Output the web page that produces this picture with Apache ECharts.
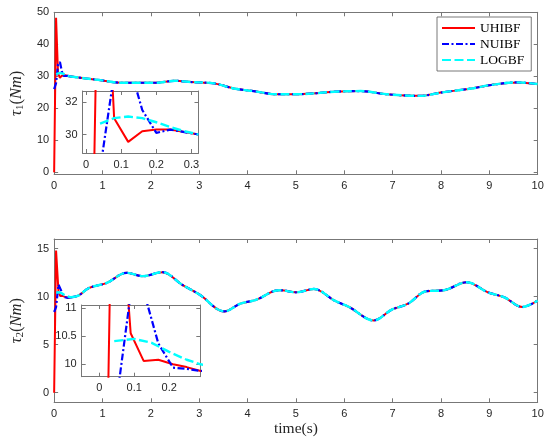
<!DOCTYPE html>
<html>
<head>
<meta charset="utf-8">
<script src="https://cdn.jsdelivr.net/npm/echarts@6/dist/echarts.min.js"></script>
<style>html,body{margin:0;padding:0;background:#fff;}#c{width:550px;height:444px;}</style>
</head>
<body>
<div id="c"></div>
<script>
// ---- data: top panel (tau_1) ----
const legendNames = ['UHIBF', 'NUIBF', 'LOGBF'];
const tTrans1 = [0, 0.04, 0.08, 0.12, 0.16, 0.20, 0.24, 0.28, 0.32];
const red1 = [0, 48.3, 31.0, 29.55, 30.2, 30.3, 30.3, 30.15, 30.0];
const blue1 = [26.0, 27.85, 33.7, 34.5, 31.5, 30.1, 30.3, 30.15, 30.0];
const tCyan1 = [0.04, 0.08, 0.12, 0.16, 0.20, 0.24, 0.28, 0.32];
const cyan1 = [30.67, 31.0, 31.1, 31.0, 30.75, 30.45, 30.2, 30.0];
const tTail1 = [0.32, 0.62, 0.96, 1.36, 1.75, 2.1, 2.5, 2.84, 3.31, 3.72, 4.12, 4.59, 5.0, 5.4, 5.8, 6.34, 6.88, 7.56, 8.03, 8.63, 9.04, 9.58, 10.0];
const yTail1 = [30.0, 29.4, 28.8, 28.0, 28.0, 28.0, 28.6, 28.2, 27.8, 26.2, 25.4, 24.4, 24.4, 24.7, 25.2, 25.4, 24.4, 23.9, 25.0, 26.2, 27.3, 28.1, 27.6];
// ---- data: bottom panel (tau_2) ----
const tRed2 = [0, 0.04, 0.09, 0.127, 0.169, 0.211, 0.25, 0.29, 0.35];
const red2 = [0, 14.8, 10.55, 10.06, 10.08, 10.0, 9.95, 9.88, 9.93];
const tBlue2 = [0, 0.04, 0.09, 0.127, 0.169, 0.211, 0.25, 0.29, 0.35];
const blue2 = [8.4, 8.9, 11.25, 11.3, 10.37, 9.94, 9.92, 9.88, 9.93];
const tCyan2 = [0.043, 0.1, 0.15, 0.2, 0.25, 0.29, 0.35];
const cyan2 = [10.41, 10.45, 10.38, 10.22, 10.08, 10.0, 9.93];
const tTail2 = [0.35, 0.5, 0.72, 1.09, 1.5, 1.83, 2.24, 2.64, 3.01, 3.52, 3.85, 4.19, 4.53, 4.69, 5.0, 5.37, 5.8, 6.1, 6.61, 6.98, 7.32, 7.69, 8.06, 8.53, 8.97, 9.31, 9.68, 10.0];
const yTail2 = [9.93, 10.1, 10.9, 11.43, 12.48, 12.13, 12.55, 11.26, 10.2, 8.46, 9.27, 9.69, 10.56, 10.66, 10.45, 10.8, 9.58, 8.92, 7.52, 8.64, 9.27, 10.56, 10.66, 11.5, 10.45, 9.93, 8.92, 9.6];
// ---- ticks ----
const xTicksMain = [0, 1, 2, 3, 4, 5, 6, 7, 8, 9, 10];
const yTicksTop = [0, 10, 20, 30, 40, 50];
const yTicksBot = [0, 5, 10, 15];
const xTicksIn1 = [0, 0.1, 0.2, 0.3];
const yTicksIn1 = [30, 32];
const xTicksIn2 = [0, 0.1, 0.2];
const yTicksIn2 = [10, 10.5, 11];

const pairs = (t, y) => t.map((x, i) => [x, y[i]]);
const AX = '#777';
const LBL = '#262626';
const COLORS = {UHIBF: '#ff0000', NUIBF: '#0000ff', LOGBF: '#00ffff'};
const DASH = {UHIBF: 'solid', NUIBF: [7, 2.5, 2, 2.5], LOGBF: [9, 3.5]};
const WIDTH = {UHIBF: 2, NUIBF: 2.2, LOGBF: 2.4};

function axis(kind, grid, min, max, vals, pos, showLabel, zl) {
  return {
    type: 'value', gridIndex: grid, min: min, max: max, position: pos, zlevel: zl,
    axisLine: {show: true, onZero: false, lineStyle: {color: AX, width: 1}},
    axisTick: {show: true, inside: true, length: 4, customValues: vals, lineStyle: {color: AX, width: 1}},
    axisLabel: {show: showLabel, customValues: vals, color: LBL, fontSize: 11, fontFamily: 'Liberation Sans', margin: kind === 'x' ? 6 : 5},
    splitLine: {show: false}
  };
}

const serif = 'Liberation Serif';
function yName(sub) {
  return {
    name: '{i|τ}{s|' + sub + '}{r|(}{i|Nm}{r|)}',
    nameLocation: 'middle', nameGap: 18,
    nameTextStyle: {
      color: LBL,
      rich: {
        i: {fontFamily: serif, fontStyle: 'italic', fontSize: 16.5, color: LBL, lineHeight: 19},
        r: {fontFamily: serif, fontSize: 16.5, color: LBL, lineHeight: 19},
        s: {fontFamily: serif, fontSize: 11, color: LBL, lineHeight: 19, verticalAlign: 'bottom', padding: [7, 0, 0, 0]}
      }
    }
  };
}

const xAxes = [
  axis('x', 0, 0, 10, xTicksMain, 'bottom', true, 0),
  axis('x', 0, 0, 10, xTicksMain, 'top', false, 0),
  axis('x', 1, -0.01, 0.32, xTicksIn1, 'bottom', true, 1),
  axis('x', 1, -0.01, 0.32, xTicksIn1, 'top', false, 1),
  Object.assign(axis('x', 2, 0, 10, xTicksMain, 'bottom', true, 0), {
    name: 'time(s)', nameLocation: 'middle', nameGap: 19,
    nameTextStyle: {fontFamily: serif, fontSize: 15.5, color: LBL}
  }),
  axis('x', 2, 0, 10, xTicksMain, 'top', false, 0),
  axis('x', 3, -0.05, 0.289, xTicksIn2, 'bottom', true, 1),
  axis('x', 3, -0.05, 0.289, xTicksIn2, 'top', false, 1)
];
const yAxes = [
  Object.assign(axis('y', 0, -0.6, 50, yTicksTop, 'left', true, 0), yName('1')),
  axis('y', 0, -0.6, 50, yTicksTop, 'right', false, 0),
  axis('y', 1, 28.87, 32.66, yTicksIn1, 'left', true, 1),
  axis('y', 1, 28.87, 32.66, yTicksIn1, 'right', false, 1),
  Object.assign(axis('y', 2, -1, 16, yTicksBot, 'left', true, 0), yName('2')),
  axis('y', 2, -1, 16, yTicksBot, 'right', false, 0),
  axis('y', 3, 9.78, 11.05, yTicksIn2, 'left', true, 1),
  axis('y', 3, 9.78, 11.05, yTicksIn2, 'right', false, 1)
];

function line(name, data, axIdx, zl, smooth) {
  return {
    type: 'line', name: name, data: data, xAxisIndex: axIdx, yAxisIndex: axIdx,
    symbol: 'none', showSymbol: false, smooth: smooth || false, zlevel: zl, clip: true,
    lineStyle: {color: COLORS[name], width: WIDTH[name], type: DASH[name]},
    itemStyle: {color: COLORS[name]},
    animation: false
  };
}

const series = [];
// top main
series.push(line('UHIBF', pairs(tTrans1, red1), 0, 0));
series.push(line('UHIBF', pairs(tTail1, yTail1), 0, 0, 0.35));
series.push(line('NUIBF', pairs(tTrans1, blue1), 0, 0));
series.push(line('NUIBF', pairs(tTail1, yTail1), 0, 0, 0.35));
series.push(line('LOGBF', pairs(tCyan1, cyan1), 0, 0));
series.push(line('LOGBF', pairs(tTail1, yTail1), 0, 0, 0.35));
// top inset
series.push(line('UHIBF', pairs(tTrans1, red1), 2, 1));
series.push(line('NUIBF', pairs(tTrans1, blue1), 2, 1));
series.push(line('LOGBF', pairs(tCyan1, cyan1), 2, 1));
// bottom main
series.push(line('UHIBF', pairs(tRed2, red2), 4, 0));
series.push(line('UHIBF', pairs(tTail2, yTail2), 4, 0, 0.35));
series.push(line('NUIBF', pairs(tBlue2, blue2), 4, 0));
series.push(line('NUIBF', pairs(tTail2, yTail2), 4, 0, 0.35));
series.push(line('LOGBF', pairs(tCyan2, cyan2), 4, 0));
series.push(line('LOGBF', pairs(tTail2, yTail2), 4, 0, 0.35));
// bottom inset
series.push(line('UHIBF', pairs(tRed2, red2), 6, 1));
series.push(line('NUIBF', pairs(tBlue2, blue2), 6, 1));
series.push(line('LOGBF', pairs(tCyan2, cyan2), 6, 1));

const chart = echarts.init(document.getElementById('c'), null, {renderer: 'canvas'});
chart.setOption({
  animation: false,
  backgroundColor: '#fff',
  grid: [
    {left: 42.7, top: 12.3, width: 495, height: 162, show: false},
    {left: 82.5, top: 91, width: 116, height: 62, show: true, backgroundColor: '#fff', borderWidth: 0, zlevel: 1},
    {left: 42.7, top: 239, width: 495, height: 163.3, show: false},
    {left: 81.7, top: 305, width: 118.6, height: 71.7, show: true, backgroundColor: '#fff', borderWidth: 0, zlevel: 1}
  ],
  legend: {
    data: legendNames, orient: 'vertical', left: 437, top: 17,
    padding: [4, 7, 4, 4], itemWidth: 33, itemHeight: 14, itemGap: 2,
    backgroundColor: '#fff', borderColor: '#555', borderWidth: 0.8, borderRadius: 0,
    itemStyle: {opacity: 0, borderWidth: 0},
    textStyle: {fontFamily: serif, fontSize: 13.5, color: '#000', padding: [0, 0, 0, 0]},
    zlevel: 2, selectedMode: false
  },
  xAxis: xAxes,
  yAxis: yAxes,
  series: series
});
</script>
</body>
</html>
